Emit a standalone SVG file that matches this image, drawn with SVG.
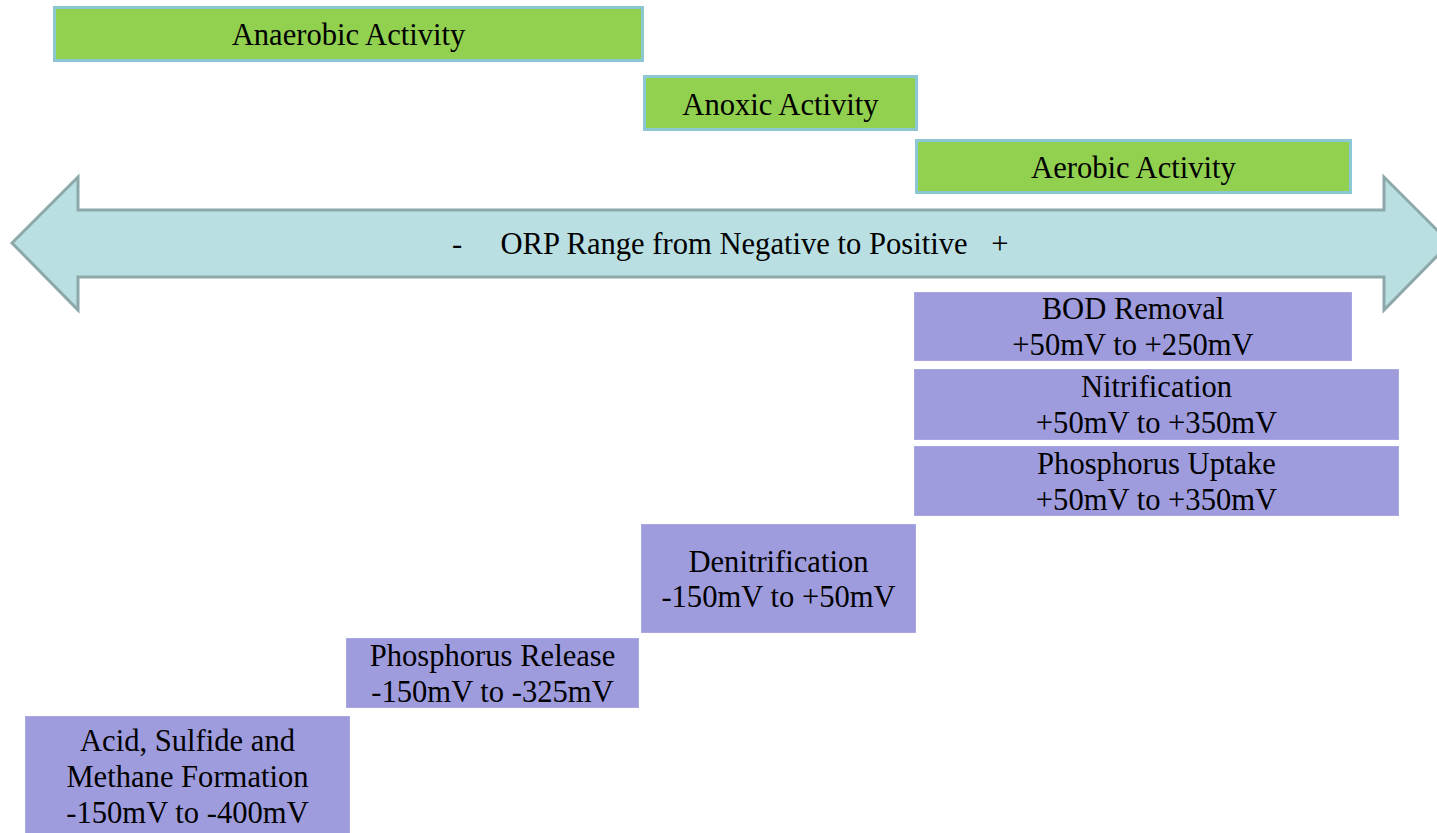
<svg xmlns="http://www.w3.org/2000/svg" width="1437" height="833" viewBox="0 0 1437 833">
  <style>
    .t { font-family: 'Liberation Serif', 'Times New Roman', serif; font-size: 30.6px; fill: #000; text-anchor: middle; }
    .green { fill: #92D050; stroke: #8CC8D3; stroke-width: 3; }
    .purple { fill: #9F9CDD; stroke: #A9A7E2; stroke-width: 1; }
    .arrow { fill: #B9DFE2; stroke: #8DA8A9; stroke-width: 3; stroke-linejoin: miter; }
  </style>
  <rect width="1437" height="833" fill="#FFFFFF"/>

  <g id="connectors">
    <polygon class="arrow" points="12,243 78,177 78,210 1384,210 1384,177 1450,243 1384,310 1384,277 78,277 78,310"/>
    <text class="t" y="254"><tspan x="457">-</tspan><tspan x="734">ORP Range from Negative to Positive</tspan><tspan x="1000">+</tspan></text>
  </g>

  <g id="anaerobic">
    <rect class="green" x="54.5" y="7.5" width="588" height="53"/>
    <text class="t" x="348.5" y="45">Anaerobic Activity</text>
  </g>
  <g id="anoxic">
    <rect class="green" x="644.5" y="76.5" width="272" height="53"/>
    <text class="t" x="780.5" y="115">Anoxic Activity</text>
  </g>
  <g id="aerobic">
    <rect class="green" x="916.5" y="140.5" width="434" height="52"/>
    <text class="t" x="1133.5" y="178">Aerobic Activity</text>
  </g>

  <g id="bod">
    <rect class="purple" x="914.5" y="292.5" width="437" height="68"/>
    <text class="t" x="1133" y="319">BOD Removal</text>
    <text class="t" x="1133" y="355">+50mV to +250mV</text>
  </g>
  <g id="nitrification">
    <rect class="purple" x="914.5" y="369.5" width="484" height="70"/>
    <text class="t" x="1156.5" y="397">Nitrification</text>
    <text class="t" x="1156.5" y="433">+50mV to +350mV</text>
  </g>
  <g id="phosphorus-uptake">
    <rect class="purple" x="914.5" y="446.5" width="484" height="69"/>
    <text class="t" x="1156.5" y="474">Phosphorus Uptake</text>
    <text class="t" x="1156.5" y="510">+50mV to +350mV</text>
  </g>
  <g id="denitrification">
    <rect class="purple" x="641.5" y="524.5" width="274" height="108"/>
    <text class="t" x="778.5" y="572">Denitrification</text>
    <text class="t" x="778.5" y="607">-150mV to +50mV</text>
  </g>
  <g id="phosphorus-release">
    <rect class="purple" x="346.5" y="638.5" width="292" height="69"/>
    <text class="t" x="492.5" y="666">Phosphorus Release</text>
    <text class="t" x="492.5" y="702">-150mV to -325mV</text>
  </g>
  <g id="acid-sulfide-methane">
    <rect class="purple" x="25.5" y="716.5" width="324" height="130"/>
    <text class="t" x="187.5" y="751">Acid, Sulfide and</text>
    <text class="t" x="187.5" y="787">Methane Formation</text>
    <text class="t" x="187.5" y="823">-150mV to -400mV</text>
  </g>
</svg>
